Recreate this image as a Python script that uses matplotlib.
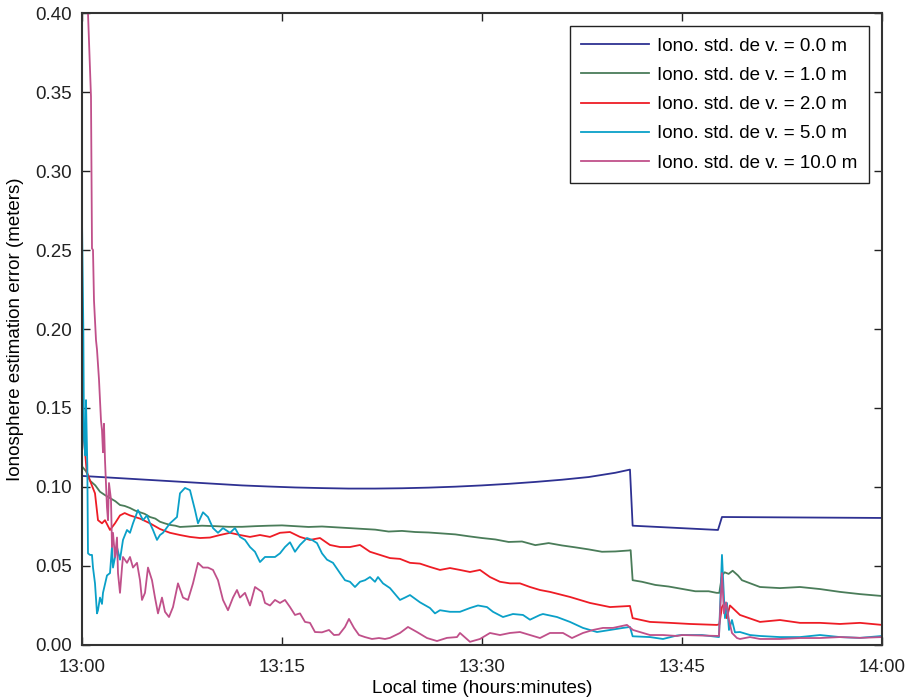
import numpy as np
import matplotlib
matplotlib.use('Agg')
import matplotlib.pyplot as plt

plt.rcParams['font.family'] = ['Liberation Sans', 'DejaVu Sans']

# minutes after 13:00, values in meters
t0 = [0, 2, 4, 6, 8, 10, 12, 14, 16, 18, 20, 22, 24, 26, 28, 30, 32, 34, 36, 38, 40,
      41.1, 41.3, 47.7, 48.0, 60]
e0 = [0.1070, 0.1060, 0.1050, 0.1040, 0.1030, 0.1020, 0.1010, 0.1003, 0.0997, 0.0993,
      0.0990, 0.0990, 0.0992, 0.0996, 0.1002, 0.1010, 0.1020, 0.1032, 0.1046, 0.1063,
      0.1090, 0.1110, 0.0755, 0.0728, 0.0810, 0.0804]

t1 = [0, 0.3, 0.6, 1.0, 1.35, 1.7, 2.1, 2.5, 2.85, 3.2, 3.6, 4.0, 4.35, 4.7, 5.1, 5.5,
      5.85, 6.2, 6.6, 7.0, 7.35, 8, 9, 10, 11, 12, 13, 14, 15, 16, 17, 18, 19, 20, 21,
      22, 23, 24, 25, 26, 27, 28, 29, 30, 31, 32, 33, 34, 35, 36, 37, 38, 39, 40, 41,
      41.15, 41.3, 42, 43, 44, 45, 46, 47, 47.6, 47.8, 48.0, 48.2, 48.5, 48.8, 49.2,
      49.5, 50.85, 52.35, 53.85, 55.35, 56.85, 58.35, 60]
e1 = [0.113, 0.110, 0.104, 0.101, 0.097, 0.095, 0.093, 0.091, 0.0886, 0.088, 0.0867,
      0.085, 0.084, 0.083, 0.081, 0.080, 0.078, 0.077, 0.076, 0.0755, 0.0747, 0.0750,
      0.0755, 0.0752, 0.0748, 0.0748, 0.0752, 0.0755, 0.0757, 0.0752, 0.0747, 0.0750,
      0.0745, 0.0740, 0.0735, 0.0730, 0.0718, 0.0722, 0.0715, 0.0712, 0.0706, 0.0700,
      0.0688, 0.0677, 0.0668, 0.0652, 0.0655, 0.0632, 0.0645, 0.0630, 0.0618, 0.0605,
      0.0590, 0.0592, 0.0598, 0.0600, 0.0410, 0.0400, 0.0380, 0.0370, 0.0355, 0.0340,
      0.0340, 0.0330, 0.0330, 0.0440, 0.0460, 0.0450, 0.0470, 0.0440, 0.0410, 0.0367,
      0.0360, 0.0367, 0.0354, 0.0336, 0.0322, 0.0310]

t2 = [0, 0.2, 0.35, 0.6, 0.975, 1.2, 1.5, 1.725, 2.1, 2.475, 2.85, 3.2, 3.6, 4.35, 5.1,
      5.85, 6.6, 7.35, 8.1, 8.85, 9.6, 10.35, 11.1, 11.85, 12.6, 13.35, 14.1, 14.85,
      15.6, 16.35, 17.1, 17.85, 18.6, 19.35, 20.1, 20.85, 21.6, 22.35, 23.1, 23.85,
      24.6, 25.35, 26.1, 26.85, 27.6, 28.35, 29.1, 29.85, 30.6, 31.35, 32.1, 32.85,
      33.6, 34.35, 35.1, 36.6, 38.1, 39.6, 41.1, 41.3, 42.6, 44.1, 45.6, 47.6, 47.8,
      48.0, 48.15, 48.35, 48.6, 49.35, 50.85, 52.35, 53.85, 55.35, 56.85, 58.35, 60]
e2 = [0.148, 0.125, 0.110, 0.104, 0.096, 0.079, 0.077, 0.079, 0.0728, 0.077, 0.082,
      0.0835, 0.082, 0.080, 0.077, 0.0734, 0.071, 0.0696, 0.0684, 0.0677, 0.068, 0.0696,
      0.071, 0.0696, 0.0684, 0.0696, 0.0684, 0.071, 0.0715, 0.0684, 0.0665, 0.0677,
      0.0633, 0.062, 0.062, 0.0633, 0.059, 0.057, 0.055, 0.0545, 0.052, 0.0515, 0.0494,
      0.0475, 0.0487, 0.0475, 0.0462, 0.0475, 0.043, 0.040, 0.039, 0.039, 0.0367,
      0.0348, 0.0336, 0.0304, 0.0266, 0.024, 0.0247, 0.017, 0.0146, 0.014, 0.0133,
      0.0127, 0.013, 0.024, 0.026, 0.017, 0.025, 0.019, 0.0146, 0.0158, 0.014, 0.014,
      0.0133, 0.014, 0.0127]

t5 = [0, 0.1, 0.15, 0.25, 0.3, 0.4, 0.45, 0.6, 0.75, 0.825, 0.975, 1.125, 1.2, 1.35,
      1.5, 1.575, 1.875, 2.1, 2.25, 2.325, 2.625, 2.85, 3.075, 3.375, 3.6, 3.825, 4.2,
      4.575, 4.875, 5.1, 5.325, 5.625, 5.85, 6.075, 6.6, 7.125, 7.35, 7.725, 8.1, 8.475,
      8.7, 9.075, 9.45, 9.825, 10.2, 10.575, 11.1, 11.475, 11.85, 12.225, 12.6, 12.975,
      13.35, 13.725, 14.1, 14.475, 14.85, 15.225, 15.6, 15.975, 16.35, 16.875, 17.25,
      17.625, 18.0, 18.375, 18.825, 19.35, 19.725, 20.1, 20.475, 20.85, 21.225, 21.6,
      21.975, 22.2, 22.575, 23.1, 23.85, 24.225, 24.6, 25.35, 26.1, 26.475, 26.85, 27.6,
      28.35, 29.1, 29.7, 30.375, 30.825, 31.575, 32.325, 33.075, 33.6, 34.35, 34.575,
      35.625, 36.6, 37.575, 38.625, 39.6, 40.575, 41.1, 41.3, 42.6, 43.575, 44.625, 45.0,
      46.5, 47.775, 48.0, 48.15, 48.225, 48.375, 48.525, 48.75, 48.975, 49.35, 50.1,
      50.85, 52.35, 53.85, 55.35, 56.85, 58.35, 60]
e5 = [0.270, 0.200, 0.130, 0.120, 0.155, 0.113, 0.058, 0.057, 0.057, 0.049, 0.039,
      0.020, 0.022, 0.030, 0.026, 0.033, 0.044, 0.0455, 0.062, 0.049, 0.062, 0.054,
      0.0665, 0.0728, 0.071, 0.077, 0.0854, 0.079, 0.082, 0.077, 0.0728, 0.0665, 0.0696,
      0.071, 0.077, 0.081, 0.096, 0.0994, 0.098, 0.0854, 0.077, 0.084, 0.081, 0.074,
      0.071, 0.074, 0.071, 0.074, 0.0684, 0.0665, 0.062, 0.059, 0.0525, 0.0557, 0.0557,
      0.0557, 0.058, 0.062, 0.065, 0.059, 0.0633, 0.0677, 0.0665, 0.0645, 0.058, 0.054,
      0.052, 0.0455, 0.041, 0.040, 0.0367, 0.040, 0.041, 0.043, 0.040, 0.043, 0.039,
      0.036, 0.0285, 0.030, 0.0316, 0.027, 0.0234, 0.020, 0.022, 0.021, 0.021, 0.0234,
      0.025, 0.024, 0.021, 0.0177, 0.0196, 0.019, 0.016, 0.019, 0.0196, 0.0177, 0.0146,
      0.0108, 0.0082, 0.0095, 0.0108, 0.0114, 0.0055, 0.005, 0.0038, 0.006, 0.0063,
      0.0063, 0.005, 0.057, 0.030, 0.017, 0.0266, 0.0095, 0.0158, 0.008, 0.0082, 0.0063,
      0.0057, 0.005, 0.005, 0.0063, 0.005, 0.0045, 0.0057]

t10 = [0.4, 0.45, 0.675, 0.75, 0.825, 0.9, 1.05, 1.125, 1.275, 1.425, 1.5, 1.575, 1.65,
       1.725, 1.875, 1.95, 2.025, 2.175, 2.25, 2.325, 2.475, 2.625, 2.7, 2.85, 3.0, 3.075,
       3.375, 3.6, 3.825, 4.125, 4.35, 4.5, 4.725, 4.95, 5.25, 5.475, 5.7, 6.0, 6.225,
       6.525, 6.825, 7.2, 7.575, 7.95, 8.325, 8.7, 9.075, 9.45, 9.825, 10.2, 10.575,
       10.95, 11.325, 11.625, 11.85, 12.225, 12.6, 12.975, 13.5, 13.725, 14.1, 14.475,
       14.85, 15.225, 15.6, 15.975, 16.35, 16.725, 17.1, 17.475, 18.0, 18.525, 18.9,
       19.275, 19.725, 20.025, 20.4, 20.775, 21.225, 21.75, 22.275, 22.725, 23.1, 23.85,
       24.45, 25.125, 25.875, 26.625, 27.375, 28.125, 28.35, 29.1, 29.85, 30.6, 31.35,
       32.1, 32.85, 33.6, 34.35, 35.1, 36.075, 36.75, 37.575, 38.325, 39.075, 39.825,
       40.875, 41.325, 41.85, 42.6, 43.575, 44.625, 45.0, 46.5, 47.775, 48.0, 48.15, 48.3,
       48.525, 48.75, 49.125, 49.35, 50.1, 50.85, 52.35, 53.85, 55.35, 56.85, 58.35, 60]
e10 = [0.450, 0.400, 0.347, 0.251, 0.250, 0.218, 0.193, 0.187, 0.168, 0.142, 0.136,
       0.122, 0.140, 0.117, 0.087, 0.079, 0.1025, 0.092, 0.062, 0.071, 0.0557, 0.068,
       0.0455, 0.033, 0.049, 0.0557, 0.052, 0.0557, 0.049, 0.052, 0.041, 0.0285, 0.033,
       0.049, 0.041, 0.030, 0.020, 0.030, 0.021, 0.0177, 0.024, 0.039, 0.030, 0.0285,
       0.039, 0.052, 0.049, 0.049, 0.0475, 0.041, 0.0285, 0.022, 0.030, 0.0348, 0.030,
       0.033, 0.025, 0.0367, 0.0336, 0.0266, 0.025, 0.0285, 0.0266, 0.0285, 0.024, 0.019,
       0.020, 0.0146, 0.014, 0.0082, 0.008, 0.0095, 0.0063, 0.0065, 0.0114, 0.0165,
       0.0108, 0.0063, 0.005, 0.0038, 0.0044, 0.0038, 0.0045, 0.0076, 0.0114, 0.0082,
       0.0044, 0.0025, 0.0045, 0.005, 0.0076, 0.002, 0.0038, 0.0076, 0.0063, 0.0076,
       0.0082, 0.0063, 0.0044, 0.0076, 0.0076, 0.0044, 0.0076, 0.0095, 0.0108, 0.0108,
       0.0127, 0.0095, 0.0082, 0.0063, 0.0063, 0.0057, 0.0063, 0.006, 0.0057, 0.0455,
       0.020, 0.027, 0.0158, 0.0076, 0.0044, 0.0038, 0.005, 0.0038, 0.0038, 0.0044,
       0.0044, 0.005, 0.0045, 0.005]

labels = ['Iono. std. de v. = 0.0 m', 'Iono. std. de v. = 1.0 m', 'Iono. std. de v. = 2.0 m',
          'Iono. std. de v. = 5.0 m', 'Iono. std. de v. = 10.0 m']
colors = ['#2e3192', '#4a7c59', '#ee1c25', '#0aa0c8', '#c0508a']
xtick_labels = ['13:00', '13:15', '13:30', '13:45', '14:00']

fig = plt.figure(figsize=(9.07, 7.0), dpi=100)
ax = fig.add_axes([0.0904, 0.0786, 0.882, 0.9028])

series = [(t0, e0), (t1, e1), (t2, e2), (t5, e5), (t10, e10)]
for (t, e), c, lab in zip(series, colors, labels):
    ax.plot(t, e, color=c, lw=1.3, label=lab)

ax.set_xlim(0, 60)
ax.set_ylim(0, 0.40)
ax.set_xticks([0, 15, 30, 45, 60])
ax.set_xticklabels(xtick_labels)
ax.set_yticks(np.arange(0, 0.401, 0.05))
ax.set_yticklabels(['%.2f' % v for v in np.arange(0, 0.401, 0.05)])
ax.tick_params(direction='in', length=6, width=1, top=True, right=True,
               labelsize=13.5, colors='#222222')
ax.tick_params(axis='x', pad=10)
ax.tick_params(axis='y', pad=7)
for s in ax.spines.values():
    s.set_linewidth(1.5)
    s.set_color('#333333')

ax.set_xlabel('Local time (hours:minutes)', fontsize=13.5, labelpad=3)
ax.set_ylabel('Ionosphere estimation error (meters)', fontsize=13.5, labelpad=8)

leg = ax.legend(loc='upper right', fontsize=13.5, handlelength=3.6, fancybox=False,
                framealpha=1, edgecolor='#222222', borderaxespad=0.7, labelspacing=0.65,
                borderpad=0.6, handletextpad=0.45)
leg.get_frame().set_linewidth(1.0)

fig.savefig('out.png', dpi=100)
